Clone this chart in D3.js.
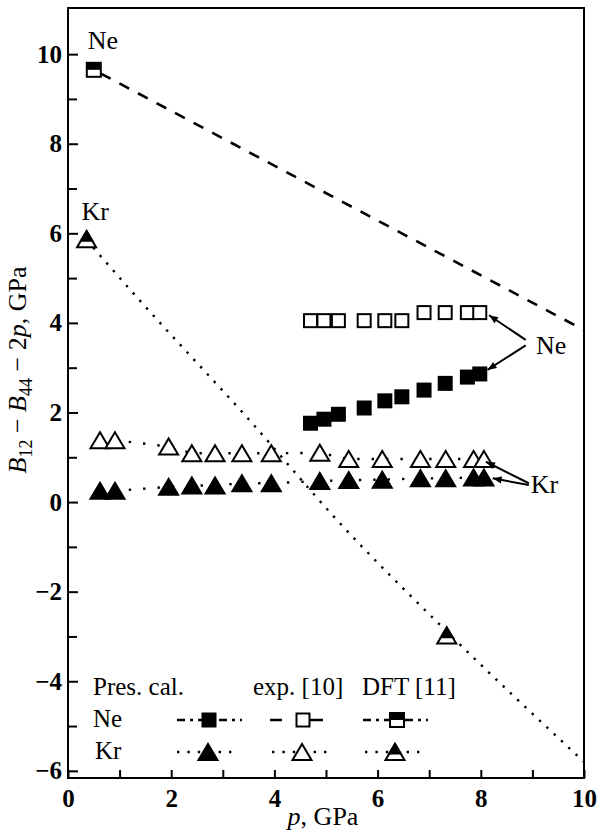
<!DOCTYPE html>
<head>
	<meta charset="utf-8">
	<title>B12 - B44 - 2p versus pressure</title>
	<script src="https://cdn.jsdelivr.net/npm/d3@7"></script>
	<style>
		body { margin: 0; background: #fff; }
		text { font-family: "Liberation Serif", "Times New Roman", serif; fill: #000; }
	</style>
</head>

<body>
	<div id="chart"></div>

  <script>
		// Ne: present calculation (filled) and experiment [10] (open)
		var pNe = [4.70, 4.96, 5.24, 5.74, 6.14, 6.47, 6.90, 7.31, 7.74, 7.98];
		var neCal = [1.76, 1.85, 1.96, 2.10, 2.26, 2.35, 2.50, 2.65, 2.79, 2.86];
		var neExp = [4.05, 4.05, 4.05, 4.05, 4.05, 4.05, 4.23, 4.23, 4.23, 4.23];

		// Kr: present calculation (filled) and experiment [10] (open)
		var pKr = [0.62, 0.91, 1.95, 2.40, 2.85, 3.37, 3.94, 4.88, 5.44, 6.09, 6.83, 7.32, 7.86, 8.06];
		var krCal = [0.25, 0.25, 0.34, 0.37, 0.37, 0.42, 0.42, 0.47, 0.49, 0.50, 0.53, 0.53, 0.55, 0.55];
		var krExp = [1.38, 1.38, 1.24, 1.09, 1.09, 1.09, 1.09, 1.10, 0.96, 0.96, 0.96, 0.96, 0.96, 0.96];

		// DFT [11] points and the curves drawn through them
		var pNeDft = [0.5];
		var neDft = [9.65];
		var pNeDftLine = [0.5, 10];
		var neDftLine = [9.65, 3.84];
		var pKrDft = [0.36, 7.34];
		var krDft = [5.87, -2.98];
		var pKrDftLine = [0.36, 1.33, 3.57, 5.18, 7.34, 10];
		var krDftLine = [5.85, 4.58, 1.76, -0.36, -2.89, -5.8];

		var xTicks = [0, 2, 4, 6, 8, 10];
		var xMinor = [1, 3, 5, 7, 9];
		var yTicks = [-6, -4, -2, 0, 2, 4, 6, 8, 10];
		var yMinor = [-5, -3, -1, 1, 3, 5, 7, 9];

		// arrows on the right: [from p, from y, to p, to y]
		var neArrows = [[8.87, 3.62, 8.16, 4.17], [8.87, 3.50, 8.13, 2.95]];
		var krArrows = [[8.93, 0.42, 8.10, 0.90], [8.93, 0.38, 8.23, 0.53]];

		var width = 598, height = 836;
		var padL = 68, padR = 584, padT = 8, padB = 778;

		var svg = d3.select("#chart").append("svg")
			.attr("width", width)
			.attr("height", height);

		var x = d3.scaleLinear().domain([0, 10]).range([padL, padR]);
		var y = d3.scaleLinear().domain([-6.16, 11.03]).range([padB, padT]);

		// arrow head
		svg.append("defs").append("marker")
			.attr("id", "head")
			.attr("markerUnits", "userSpaceOnUse")
			.attr("viewBox", "0 -5 10 10")
			.attr("refX", 10).attr("refY", 0)
			.attr("markerWidth", 11).attr("markerHeight", 9)
			.attr("orient", "auto")
			.append("path").attr("d", "M0,-4L10,0L0,4Z").attr("fill", "#000");

		// axes, ticks inward
		svg.append("g").attr("transform", "translate(" + padL + ",0)")
			.call(d3.axisLeft(y).tickValues(yTicks).tickSizeInner(-10).tickSizeOuter(0).tickPadding(6));
		svg.append("g").attr("transform", "translate(" + padL + ",0)")
			.call(d3.axisLeft(y).tickValues(yMinor).tickSizeInner(-9).tickSizeOuter(0).tickFormat(""));
		svg.append("g").attr("transform", "translate(0," + padB + ")")
			.call(d3.axisBottom(x).tickValues(xTicks).tickSizeInner(-8).tickSizeOuter(0).tickPadding(11));
		svg.append("g").attr("transform", "translate(0," + padB + ")")
			.call(d3.axisBottom(x).tickValues(xMinor).tickSizeInner(-8).tickSizeOuter(0).tickFormat(""));

		svg.selectAll(".domain").remove();
		svg.selectAll(".tick line").attr("stroke", "#000").attr("stroke-width", 2);
		svg.selectAll(".tick text")
			.style("font-family", "'Liberation Serif', serif")
			.style("font-size", "25px")
			.style("font-weight", "bold");

		svg.append("rect")
			.attr("x", padL).attr("y", padT)
			.attr("width", padR - padL).attr("height", padB - padT)
			.attr("fill", "none").attr("stroke", "#000").attr("stroke-width", 2);

		// axis titles
		svg.append("text")
			.attr("x", (padL + padR) / 2 - 3).attr("y", 825)
			.attr("text-anchor", "middle")
			.style("font-size", "26px")
			.call(function (t) {
				t.append("tspan").style("font-style", "italic").text("p");
				t.append("tspan").text(", GPa");
			});

		var yt = svg.append("text")
			.attr("transform", "translate(26,370) rotate(-90)")
			.attr("text-anchor", "middle")
			.style("font-size", "26px");
		yt.append("tspan").style("font-style", "italic").text("B");
		yt.append("tspan").attr("dy", 6).style("font-size", "18px").text("12");
		yt.append("tspan").attr("dy", -6).text(" \u2212 ");
		yt.append("tspan").style("font-style", "italic").text("B");
		yt.append("tspan").attr("dy", 6).style("font-size", "18px").text("44");
		yt.append("tspan").attr("dy", -6).text(" \u2212 2");
		yt.append("tspan").style("font-style", "italic").text("p");
		yt.append("tspan").text(", GPa");

		function zip(a, b) { return a.map(function (v, i) { return [v, b[i]]; }); }

		var line = d3.line().x(function (d) { return x(d[0]); }).y(function (d) { return y(d[1]); });

		// DFT curves
		svg.append("path")
			.attr("d", line(zip(pNeDftLine, neDftLine)))
			.attr("fill", "none").attr("stroke", "#000")
			.attr("stroke-width", 2.6).attr("stroke-dasharray", "11,10").attr("stroke-dashoffset", -8);
		svg.append("path")
			.attr("d", line.curve(d3.curveMonotoneX)(zip(pKrDftLine, krDftLine)))
			.attr("fill", "none").attr("stroke", "#000")
			.attr("stroke-width", 2.4).attr("stroke-dasharray", "2.4,7.6");
		line.curve(d3.curveLinear);

		// Kr dotted connections
		[krCal, krExp].forEach(function (vals) {
			svg.append("path")
				.attr("d", line(zip(pKr, vals)))
				.attr("fill", "none").attr("stroke", "#000")
				.attr("stroke-width", 2.4).attr("stroke-dasharray", "2.4,12");
		});

		// marker shapes
		function tri(w, h) {
			return "M0," + (-h / 2) + "L" + (w / 2) + "," + (h / 2) + "L" + (-w / 2) + "," + (h / 2) + "Z";
		}
		function drawSquare(g, open) {
			if (open) {
				g.append("rect").attr("x", -6.5).attr("y", -6.5).attr("width", 13).attr("height", 13)
					.attr("fill", "#fff").attr("stroke", "#000").attr("stroke-width", 2);
			} else {
				g.append("rect").attr("x", -7.5).attr("y", -7.5).attr("width", 15).attr("height", 15)
					.attr("fill", "#000");
			}
		}
		function drawTri(g, open) {
			g.append("path").attr("d", tri(19, 16))
				.attr("fill", open ? "#fff" : "#000").attr("stroke", "#000").attr("stroke-width", 2)
				.attr("stroke-linejoin", "miter");
		}
		function drawSquareDft(g) {
			g.append("rect").attr("x", -7).attr("y", -7).attr("width", 14).attr("height", 14)
				.attr("fill", "#fff").attr("stroke", "#000").attr("stroke-width", 2);
			g.append("rect").attr("x", -7).attr("y", -7).attr("width", 14).attr("height", 7)
				.attr("fill", "#000");
		}
		function drawTriDft(g) {
			var w = 19, h = 16, f = 0.6;
			g.append("path").attr("d", tri(w, h))
				.attr("fill", "#fff").attr("stroke", "#000").attr("stroke-width", 2);
			g.append("path")
				.attr("d", "M0," + (-h / 2) + "L" + (w / 2 * f) + "," + (-h / 2 + h * f) + "L" + (-w / 2 * f) + "," + (-h / 2 + h * f) + "Z")
				.attr("fill", "#000").attr("stroke", "#000").attr("stroke-width", 2);
		}

		function plot(ps, vals, draw, open) {
			svg.append("g").selectAll("g")
				.data(zip(ps, vals))
				.enter().append("g")
				.attr("transform", function (d) { return "translate(" + x(d[0]) + "," + y(d[1]) + ")"; })
				.each(function () { draw(d3.select(this), open); });
		}

		plot(pNe, neExp, drawSquare, true);
		plot(pNe, neCal, drawSquare, false);
		plot(pKr, krExp, drawTri, true);
		plot(pKr, krCal, drawTri, false);
		plot(pNeDft, neDft, drawSquareDft);
		plot(pKrDft, krDft, drawTriDft);

		// labels next to DFT points
		svg.append("text").attr("x", x(pNeDft[0]) - 6).attr("y", y(neDft[0]) - 21)
			.style("font-size", "26px").text("Ne");
		svg.append("text").attr("x", x(pKrDft[0]) - 5).attr("y", y(krDft[0]) - 19)
			.style("font-size", "26px").text("Kr");

		// right-hand annotations
		function arrows(list) {
			list.forEach(function (a) {
				svg.append("line")
					.attr("x1", x(a[0])).attr("y1", y(a[1]))
					.attr("x2", x(a[2])).attr("y2", y(a[3]))
					.attr("stroke", "#000").attr("stroke-width", 2)
					.attr("marker-end", "url(#head)");
			});
		}
		arrows(neArrows);
		arrows(krArrows);
		svg.append("text").attr("x", x(9.07)).attr("y", y(3.30)).style("font-size", "26px").text("Ne");
		svg.append("text").attr("x", x(8.97)).attr("y", y(0.21)).style("font-size", "26px").text("Kr");

		// legend
		var lg = svg.append("g");
		[["Pres. cal.", 93], ["exp. [10]", 253], ["DFT [11]", 362]].forEach(function (h) {
			lg.append("text").attr("x", h[1]).attr("y", 695).style("font-size", "25px").text(h[0]);
		});
		lg.append("text").attr("x", 93).attr("y", 727).style("font-size", "25px").text("Ne");
		lg.append("text").attr("x", 95).attr("y", 759).style("font-size", "25px").text("Kr");

		var legendRows = [
			{ yy: 720, items: [
				{ x1: 177, x2: 242, cx: 209, dash: "8,5,3,5", draw: drawSquare, open: false },
				{ x1: 270, x2: 323, cx: 303, dash: "12,16,25", draw: drawSquare, open: true },
				{ x1: 363, x2: 428, cx: 397, dash: "8,5,3,5", draw: drawSquareDft }
			]},
			{ yy: 752, items: [
				{ x1: 177, x2: 234, cx: 208, dash: "2.4,8", draw: drawTri, open: false },
				{ x1: 272, x2: 331, cx: 302, dash: "2.4,8", draw: drawTri, open: true },
				{ x1: 365, x2: 421, cx: 395, dash: "2.4,8", draw: drawTriDft }
			]}
		];
		legendRows.forEach(function (r) {
			r.items.forEach(function (it) {
				lg.append("line")
					.attr("x1", it.x1).attr("x2", it.x2).attr("y1", r.yy).attr("y2", r.yy)
					.attr("stroke", "#000").attr("stroke-width", 2.6)
					.attr("stroke-dasharray", it.dash);
				var g = lg.append("g").attr("transform", "translate(" + it.cx + "," + r.yy + ")");
				it.draw(g, it.open);
			});
		});
	</script>
</body>
</html>
